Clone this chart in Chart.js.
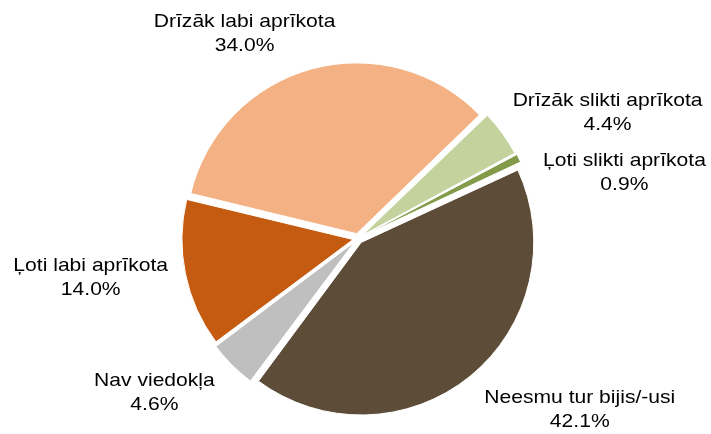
<!DOCTYPE html>
<html>
<head>
<meta charset="utf-8">
<script src="https://cdn.jsdelivr.net/npm/chart.js@4"></script>
<style>
  html, body { margin: 0; padding: 0; background: #fff; }
  #wrap { width: 711px; height: 434px; }
</style>
</head>
<body>
<div id="wrap"><canvas id="pieChart" width="711" height="434"></canvas></div>
<script>
// ===========================
// Data
// ===========================
const categories = [
    "Drīzāk labi aprīkota",
    "Drīzāk slikti aprīkota",
    "Ļoti slikti aprīkota",
    "Neesmu tur bijis/-usi",
    "Nav viedokļa",
    "Ļoti labi aprīkota"
];
const shares = [34.0, 4.4, 0.9, 42.1, 4.6, 14.0];

const sliceColors = ["#F4B183", "#C4D39D", "#839B48", "#5D4C37", "#BFBFBF", "#C55B11"];

// label nudges (px) relative to the anchor just outside each slice
const labelNudge = [
    [-61, -12], [-7, -8], [6, 24], [0, 16], [-2, 13], [6, -1]
];

const FONT_PX = 18.5;
const TEXT_STRETCH = 1.14;   // reference text is a bit wider than plain Arial
const LINE_GAP = 24;


// ==============================
// Outside labels: name + percent
// ==============================
const outsideLabels = {
    id: "outsideLabels",
    afterDatasetsDraw(chart) {
        const ctx = chart.ctx;
        const arcs = chart.getDatasetMeta(0).data;
        ctx.save();
        ctx.font = FONT_PX + "px 'Liberation Sans', Arial, sans-serif";
        ctx.fillStyle = "#000";
        ctx.textBaseline = "middle";

        arcs.forEach((arc, i) => {
            const p = arc.getProps(["x", "y", "startAngle", "endAngle", "outerRadius"], true);
            const mid = (p.startAngle + p.endAngle) / 2;
            const r = p.outerRadius + 30;
            const cos = Math.cos(mid), sin = Math.sin(mid);
            const ax = p.x + r * cos + labelNudge[i][0];
            const ay = p.y + r * sin + labelNudge[i][1];

            const lines = [categories[i], shares[i].toFixed(1) + "%"];
            const blockW = Math.max(...lines.map(t => ctx.measureText(t).width)) * TEXT_STRETCH;

            // center x of the text block
            let cx = ax;
            if (cos > 0.3) cx = ax + blockW / 2;
            else if (cos < -0.3) cx = ax - blockW / 2;

            ctx.textAlign = "center";
            lines.forEach((t, k) => {
                const ly = ay + (k - 0.5) * LINE_GAP;
                ctx.save();
                ctx.translate(cx, ly);
                ctx.scale(TEXT_STRETCH, 1);
                ctx.fillText(t, 0, 0);
                ctx.restore();
            });
        });
        ctx.restore();
    }
};


new Chart(document.getElementById("pieChart"), {
    type: "pie",
    data: {
        labels: categories,
        datasets: [{
            data: shares,
            backgroundColor: sliceColors,
            borderColor: "#fff",
            borderWidth: 1,
            offset: 20,       // chart.js draws offset/4 -> ~5px explode
            hoverOffset: 20
        }]
    },
    options: {
        responsive: false,
        animation: false,
        rotation: -76.4,
        radius: 170,
        layout: { padding: { top: 43, bottom: 0, left: 5, right: 0 } },
        plugins: {
            legend: { display: false },
            tooltip: { enabled: false }
        }
    },
    plugins: [outsideLabels]
});
</script>
</body>
</html>
